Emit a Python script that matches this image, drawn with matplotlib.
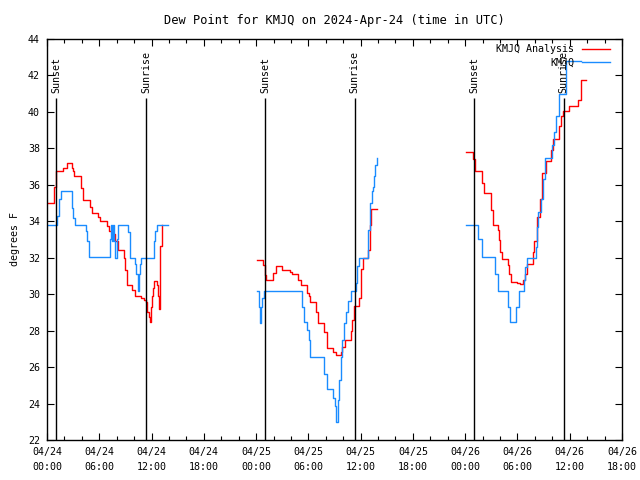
import matplotlib
matplotlib.use("Agg")
import matplotlib.pyplot as plt
import numpy as np

# Dew point, KMJQ, hours since 2024-04-24 00:00 UTC

# ------------------------------------------------ data ------------------------------------------------#

analysis_t1 = [0.1, 0.84, 1.05, 1.87, 2.26, 2.84, 2.95, 3.13, 3.87, 4.17, 4.94, 5.2, 5.89, 6.12, 6.85, 7.06,
               7.61, 7.86, 8.12, 8.84, 8.96, 9.22, 9.72, 10.1, 10.79, 11.14, 11.37, 11.52, 11.71, 11.86, 11.97,
               12.09, 12.2, 12.32, 12.59, 12.71, 12.8, 12.89, 13.0, 13.17]
analysis_v1 = [35.0, 35.9, 36.75, 36.95, 37.2, 36.95, 36.75, 36.5, 35.85, 35.15, 34.8, 34.47, 34.23, 34.0, 33.75,
               33.45, 33.3, 32.9, 32.45, 32.0, 31.3, 30.5, 30.25, 29.88, 29.8, 29.7, 29.55, 29.0, 28.75, 28.5, 29.3,
               29.9, 30.36, 30.74, 30.5, 29.9, 29.6, 29.19, 32.63, 33.82]

analysis_t2 = [24.14, 24.83, 25.03, 25.14, 25.91, 26.26, 26.95, 27.9, 28.16, 28.85, 29.2, 29.88, 30.02, 30.23,
               30.88, 31.06, 31.84, 32.18, 32.87, 33.21, 33.75, 33.87, 34.18, 34.87, 35.02, 35.28, 35.82, 36.05,
               36.25, 36.89, 37.03, 37.2, 37.85]
analysis_v2 = [31.86, 31.6, 31.07, 30.8, 31.14, 31.53, 31.35, 31.22, 31.11, 30.8, 30.49, 30.07, 29.88, 29.57,
               29.0, 28.42, 27.9, 27.04, 26.85, 26.67, 26.85, 27.1, 27.5, 28.0, 28.6, 29.37, 29.79, 31.4,
               32.0, 32.45, 33.8, 34.65, 34.65]

analysis_t3 = [48.1, 48.88, 49.14, 49.91, 50.21, 50.94, 51.17, 51.81, 51.93, 52.0, 52.24, 52.93, 53.04, 53.24,
               53.93, 54.31, 54.69, 54.85, 55.14, 55.83, 55.94, 56.22, 56.6, 56.83, 57.26, 57.86, 58.13, 58.82,
               58.96, 59.2, 59.9, 60.95, 61.25, 61.9]
analysis_v3 = [37.8, 37.4, 36.76, 36.1, 35.53, 34.6, 33.79, 33.5, 32.95, 32.3, 31.95, 31.6, 31.1, 30.67,
               30.6, 30.54, 30.8, 31.1, 31.66, 32.3, 32.94, 34.24, 35.2, 36.67, 37.31, 37.9, 38.5, 39.2,
               39.8, 40.06, 40.34, 40.65, 41.74, 41.74]

obs_t1 = [0.1, 1.18, 1.38, 1.57, 2.84, 2.95, 3.18, 4.48, 4.63, 4.86, 7.2, 7.31, 7.46, 7.58, 7.69, 7.81, 7.98,
          8.15, 9.27, 9.53, 10.1, 10.22, 10.41, 10.48, 10.6, 10.68, 10.79, 12.32, 12.43, 12.59, 13.93]
obs_v1 = [33.8, 34.3, 35.2, 35.64, 34.74, 34.2, 33.8, 33.45, 32.9, 32.03, 33.0, 33.8, 32.9, 33.8, 32.9, 32.0, 33.0,
          33.8, 33.4, 32.0, 31.65, 31.1, 30.5, 30.15, 31.1, 31.65, 32.0, 32.9, 33.45, 33.82, 33.82]

obs_t2 = [24.14, 24.3, 24.45, 24.6, 24.72, 24.87, 29.24, 29.54, 29.85, 30.08, 30.2, 31.84, 32.18, 32.87, 33.0,
          33.21, 33.4, 33.55, 33.75, 33.9, 34.13, 34.37, 34.56, 34.87, 35.44, 35.58, 35.82, 36.89, 37.06,
          37.29, 37.4, 37.51, 37.62, 37.85]
obs_v2 = [30.2, 29.3, 28.42, 29.3, 29.8, 30.2, 29.3, 28.45, 28.05, 27.5, 26.58, 25.6, 24.8, 24.3, 23.87,
          23.0, 24.2, 25.3, 26.58, 27.5, 28.4, 29.0, 29.6, 30.16, 30.6, 31.55, 32.0, 33.5, 35.0,
          35.66, 35.9, 36.48, 37.1, 37.45]

obs_t3 = [48.1, 49.52, 49.91, 51.44, 51.81, 52.89, 53.16, 53.85, 54.23, 54.8, 54.91, 55.14, 56.14, 56.29, 56.41,
          56.68, 56.91, 57.18, 57.94, 58.2, 58.44, 58.75, 59.6, 61.3]
obs_v3 = [33.82, 33.0, 32.03, 31.1, 30.2, 29.3, 28.45, 29.3, 30.16, 30.8, 31.5, 32.0, 32.6, 33.7, 34.5,
          35.2, 36.3, 37.45, 38.2, 38.9, 39.8, 41.0, 42.8, 42.8]

sun_times = [1.05, 11.4, 25.06, 35.3, 49.06, 59.3]
sun_labels = ["Sunset", "Sunrise", "Sunset", "Sunrise", "Sunset", "Sunrise"]

tick_hours = list(range(0, 67, 6))
tick_labels = ["04/24\n00:00", "04/24\n06:00", "04/24\n12:00", "04/24\n18:00",
               "04/25\n00:00", "04/25\n06:00", "04/25\n12:00", "04/25\n18:00",
               "04/26\n00:00", "04/26\n06:00", "04/26\n12:00", "04/26\n18:00"]

# ------------------------------------------------ plot ------------------------------------------------#

plt.rcParams["font.family"] = "DejaVu Sans Mono"
plt.rcParams["font.size"] = 7.2

fig = plt.figure(figsize=(6.4, 4.8), dpi=100)
ax = fig.add_axes([47 / 640, 40 / 480, 575 / 640, 401 / 480])

red = "#ff0000"
blue = "#1a8cff"

for t, v in [(analysis_t1, analysis_v1), (analysis_t2, analysis_v2), (analysis_t3, analysis_v3)]:
    ax.plot(t, v, drawstyle="steps-post", color=red, lw=1.0)
for t, v in [(obs_t1, obs_v1), (obs_t2, obs_v2), (obs_t3, obs_v3)]:
    ax.plot(t, v, drawstyle="steps-post", color=blue, lw=1.0)

ax.vlines(sun_times, 22, 40.75, color="black", lw=1.0)
for t, lab in zip(sun_times, sun_labels):
    ax.text(t, 41.05, lab, rotation=90, ha="center", va="bottom")

# gnuplot style key, text right aligned with the sample after it
ax.text(0.9165, 0.974, "KMJQ Analysis", transform=ax.transAxes, ha="right", va="center")
ax.plot([0.93, 0.979], [0.974, 0.974], transform=ax.transAxes, color=red, lw=1.0)
ax.text(0.9165, 0.942, "KMJQ", transform=ax.transAxes, ha="right", va="center")
ax.plot([0.93, 0.979], [0.942, 0.942], transform=ax.transAxes, color=blue, lw=1.0)

ax.set_xlim(0, 66)
ax.set_ylim(22, 44)
ax.set_xticks(tick_hours)
ax.set_xticklabels(tick_labels, linespacing=1.6)
ax.set_xticks(np.arange(0, 67, 2), minor=True)
ax.set_yticks(np.arange(22, 45, 2))

ax.tick_params(which="both", direction="in", top=True, right=True, width=0.8)
ax.tick_params(which="major", length=5, pad=5)
ax.tick_params(which="minor", length=3)
for s in ax.spines.values():
    s.set_linewidth(1.0)

ax.set_title("Dew Point for KMJQ on 2024-Apr-24 (time in UTC)", pad=11)
ax.set_ylabel("degrees F", labelpad=6)

fig.savefig("out.png", dpi=100)
